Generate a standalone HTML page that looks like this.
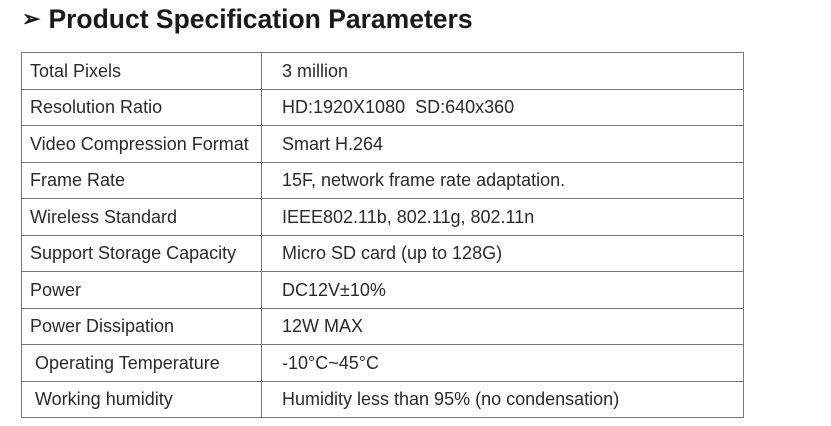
<!DOCTYPE html>
<html><head><meta charset="utf-8"><style>
body{margin:0;width:831px;height:426px;background:#fff;overflow:hidden;font-family:"Liberation Sans",sans-serif;color:#222;position:relative}
h1{position:absolute;left:22px;top:4px;margin:0;font-size:26.5px;font-weight:bold;color:#1a1a1a;white-space:nowrap}
h1 span{font-size:22px;margin-right:8px;position:relative;top:-2px}
table{position:absolute;left:21px;top:52px;border-collapse:collapse;width:723px}
tr{height:36.5px}
td{border:1.3px solid #777;padding:0;font-size:18px;color:#2a2a2a;white-space:nowrap;vertical-align:middle;line-height:1}
td:first-child{width:231px;padding-left:8px}
td:last-child{padding-left:20px}
</style></head><body>
<h1><span>➢</span>Product Specification Parameters</h1>
<table>
<tr><td>Total Pixels</td><td>3 million</td></tr>
<tr><td>Resolution Ratio</td><td>HD:1920X1080&nbsp;&nbsp;SD:640x360</td></tr>
<tr><td>Video Compression Format</td><td>Smart H.264</td></tr>
<tr><td>Frame Rate</td><td>15F, network frame rate adaptation.</td></tr>
<tr><td>Wireless Standard</td><td>IEEE802.11b, 802.11g, 802.11n</td></tr>
<tr><td>Support Storage Capacity</td><td>Micro SD card (up to 128G)</td></tr>
<tr><td>Power</td><td>DC12V±10%</td></tr>
<tr><td>Power Dissipation</td><td>12W MAX</td></tr>
<tr><td>&nbsp;Operating Temperature</td><td>-10°C~45°C</td></tr>
<tr><td>&nbsp;Working humidity</td><td>Humidity less than 95% (no condensation)</td></tr>
</table>
</body></html>
